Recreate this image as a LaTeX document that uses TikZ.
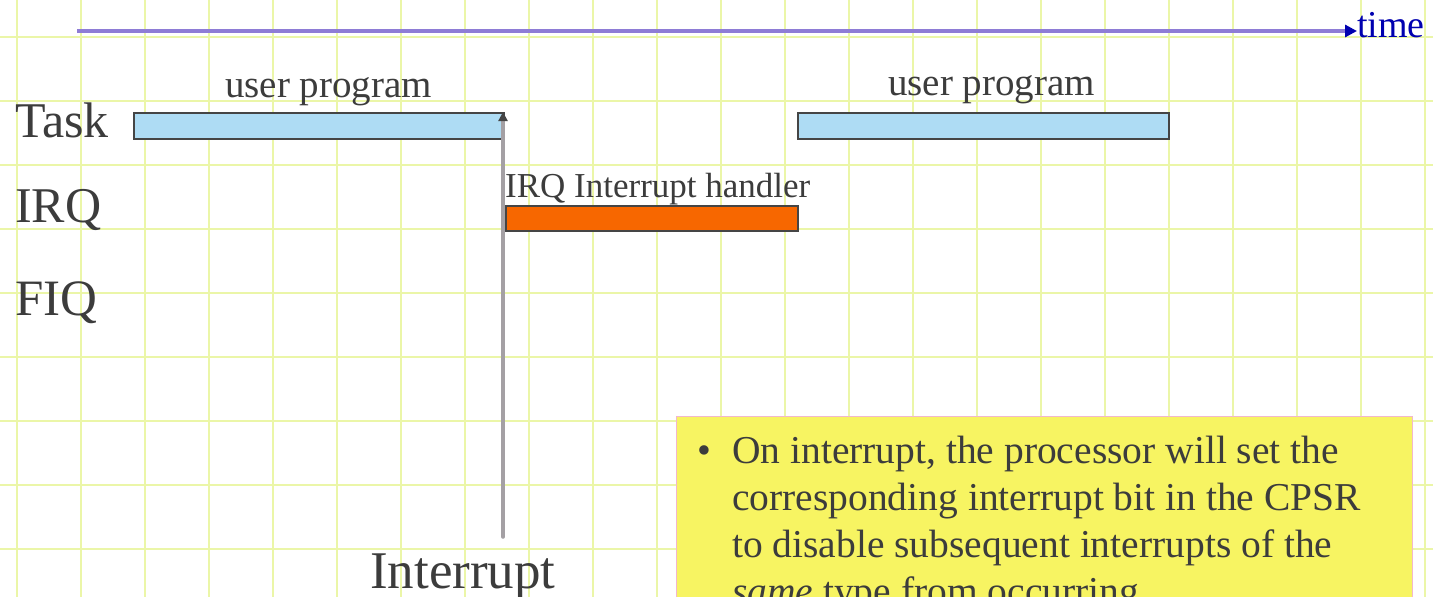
\documentclass[tikz,border=0pt]{standalone}
\usepackage{fontspec}
\setmainfont{Liberation Serif}
\usetikzlibrary{arrows.meta}
\definecolor{gridc}{HTML}{EBF6A8}
\definecolor{txt}{HTML}{3C3C3C}
\definecolor{barline}{HTML}{454545}
\definecolor{taskfill}{HTML}{AEDCF4}
\definecolor{irqfill}{HTML}{F76700}
\definecolor{axisc}{HTML}{8E7CD6}
\definecolor{timec}{HTML}{0000B0}
\definecolor{boxfill}{HTML}{F7F462}
\definecolor{boxline}{HTML}{F2B8CC}
\definecolor{intc}{HTML}{A4A0A4}
\tikzset{
  lbl/.style={inner sep=0pt, anchor=base west, text=txt},
  bar/.style={draw=barline, line width=1.5pt, inner sep=0pt, anchor=north west},
  taskbar/.style={bar, fill=taskfill},
  irqbar/.style={bar, fill=irqfill},
}
\newcommand{\fs}[1]{\fontsize{#1}{#1}\selectfont}
\begin{document}
\begin{tikzpicture}[x=1pt, y=-1pt]
\useasboundingbox (0,0) rectangle (1433,597);
\fill[white] (0,0) rectangle (1433,597);
% grid
\foreach \k in {0,...,22} \draw[gridc, line width=2pt] (17+64*\k,0) -- (17+64*\k,597);
\foreach \k in {0,...,8} \draw[gridc, line width=2pt] (0,37+64*\k) -- (1433,37+64*\k);
% time axis
\coordinate (ts) at (77,31);
\node[inner sep=0pt, anchor=base west, text=timec, font=\fs{38}] (time) at (1357,37) {time};
\draw[axisc, line width=4.5pt, -{Triangle[length=12pt,width=12pt,color=timec]}] (ts) -- (ts -| time.west);
% row labels
\node[lbl, font=\fs{50}] (task) at (15,137) {Task};
\node[lbl, font=\fs{50}] (irq) at (15,222) {IRQ};
\node[lbl, font=\fs{51}] (fiq) at (15,315) {FIQ};
% bars
\node[taskbar, minimum width=370pt, minimum height=26pt] (t1) at (133,112) {};
\node[taskbar, minimum width=371pt, minimum height=26pt] (t2) at (797,112) {};
\node[irqbar, minimum width=292pt, minimum height=25pt] (h1) at (505,205) {};
% bar labels
\node[lbl, font=\fs{39}] (up1) at (225,97) {user program};
\node[lbl, font=\fs{39}] (up2) at (888,95) {user program};
\node[lbl, font=\fs{35}] (hl) at (505,197) {IRQ Interrupt handler};
% interrupt arrow
\node[lbl, font=\fs{53}] (intl) at (370,588) {Interrupt};
\coordinate (ib) at (503,537);
\draw[intc, line width=3.5pt, line cap=round, -{Triangle[length=9pt,width=9pt,color=barline]}] (ib) -- (ib |- t1.north);
% note box
\node[draw=boxline, line width=1pt, fill=boxfill, anchor=north west, minimum width=736pt, minimum height=200pt, inner sep=0pt] (box) at (676,416) {};
\node[lbl, anchor=base east, font=\fs{39.5}] (bul) at (712,463) {•};
\node[lbl, font={\fontsize{39.5}{47}\selectfont}, align=left] (note) at (732,604)
  {On interrupt, the processor will set the\\
   corresponding interrupt bit in the CPSR\\
   to disable subsequent interrupts of the\\
   \textit{same} type from occurring.};
\end{tikzpicture}
\end{document}
